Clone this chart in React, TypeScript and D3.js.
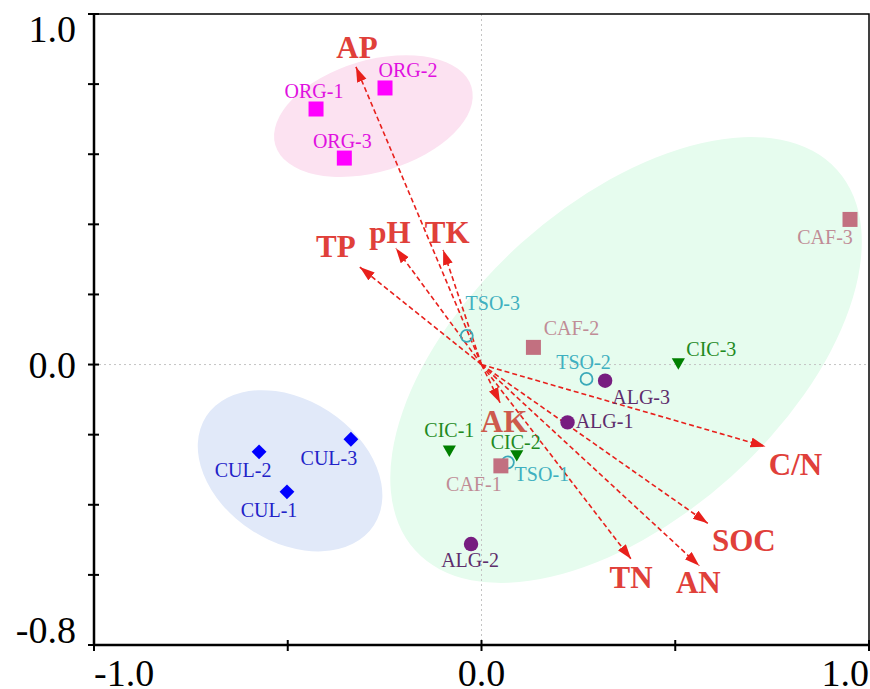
import * as d3 from 'd3'

// sample scores (axis 1, axis 2)
const sampleNames = [
  'ORG-1', 'ORG-2', 'ORG-3',
  'CUL-1', 'CUL-2', 'CUL-3',
  'TSO-1', 'TSO-2', 'TSO-3',
  'CAF-1', 'CAF-2', 'CAF-3',
  'ALG-1', 'ALG-2', 'ALG-3',
  'CIC-1', 'CIC-2', 'CIC-3',
]
const sampleX = [
  -0.427, -0.249, -0.354,
  -0.502, -0.574, -0.337,
  0.068, 0.271, -0.038,
  0.05, 0.134, 0.951,
  0.222, -0.027, 0.319,
  -0.083, 0.091, 0.508,
]
const sampleY = [
  0.729, 0.789, 0.589,
  -0.363, -0.249, -0.213,
  -0.279, -0.041, 0.082,
  -0.289, 0.049, 0.414,
  -0.165, -0.512, -0.046,
  -0.242, -0.255, 0.007,
]

// environmental variable arrows
const varNames = ['AP', 'TP', 'pH', 'TK', 'AK', 'C/N', 'SOC', 'AN', 'TN']
const varX = [-0.324, -0.314, -0.221, -0.099, 0.048, 0.733, 0.584, 0.562, 0.386]
const varY = [0.849, 0.278, 0.332, 0.327, -0.109, -0.234, -0.453, -0.574, -0.555]

// group ellipses: centre, semi axes (x units), tilt in degrees
const ellipseGroups = ['ORG', 'CUL', 'REST']
const ellipseCx = [-0.279, -0.494, 0.373]
const ellipseCy = [0.709, -0.303, 0.013]
const ellipseA = [0.264, 0.258, 0.733]
const ellipseB = [0.144, 0.183, 0.405]
const ellipseAngle = [16.5, -33, 42]

const xTicks = [-1, -0.5, 0, 0.5, 1]
const yTicks = [-0.8, -0.6, -0.4, -0.2, 0, 0.2, 0.4, 0.6, 0.8, 1.0]
const xTickLabels = ['-1.0', '0.0', '1.0']
const yTickLabels = ['-0.8', '0.0', '1.0']

const groupStyle: Record<string, { shape: string; color: string; text: string }> = {
  ORG: { shape: 'square', color: '#ff00ff', text: '#e010e0' },
  CUL: { shape: 'diamond', color: '#0000ff', text: '#2222c8' },
  TSO: { shape: 'ring', color: '#3aa9b9', text: '#3fb0c0' },
  CAF: { shape: 'square', color: '#c27080', text: '#c08c96' },
  ALG: { shape: 'circle', color: '#771d80', text: '#5e2d6c' },
  CIC: { shape: 'triangle', color: '#008000', text: '#1f8a1f' },
}
const ellipseFill: Record<string, string> = {
  ORG: '#fce2f1',
  CUL: '#e1e9f9',
  REST: '#e6fcee',
}

// label placement relative to marker (px)
const labelOffset: Record<string, [number, number]> = {
  'ORG-1': [-2, -11], 'ORG-2': [23, -11], 'ORG-3': [-2, -10],
  'CUL-1': [-18, 25], 'CUL-2': [-16, 25], 'CUL-3': [-22, 26],
  'TSO-1': [34, 19], 'TSO-2': [-3, -10], 'TSO-3': [26, -26],
  'CAF-1': [-27, 25], 'CAF-2': [38, -12], 'CAF-3': [-25, 25],
  'ALG-1': [37, 6], 'ALG-2': [-1, 23], 'ALG-3': [36, 23],
  'CIC-1': [0, -12], 'CIC-2': [-1, -5], 'CIC-3': [33, -6],
}
const varLabelOffset: Record<string, [number, number]> = {
  AP: [1, -9], TP: [-24, -10], pH: [-6, -5], TK: [4, -7], AK: [4, 29],
  'C/N': [30, 28], SOC: [36, 28], AN: [-1, 27], TN: [0, 29],
}

const W = 870
const H = 689
const FONT = '"Liberation Serif", "Times New Roman", serif'
const RED = '#e8201c'

const x = d3.scaleLinear().domain([-1, 1]).range([94, 869])
const y = d3.scaleLinear().domain([-0.8, 1.0]).range([645, 14])
const unit = x(1) - x(0)

const Marker = ({ shape, color, cx, cy }: { shape: string; color: string; cx: number; cy: number }) => {
  if (shape === 'square') {
    const p = d3.symbol().type(d3.symbolSquare).size(225)()
    return <path d={p || ''} transform={`translate(${cx},${cy})`} fill={color} />
  }
  if (shape === 'diamond') {
    const p = d3.symbol().type(d3.symbolSquare).size(110)()
    return <path d={p || ''} transform={`translate(${cx},${cy}) rotate(45)`} fill={color} />
  }
  if (shape === 'triangle') {
    const p = d3.symbol().type(d3.symbolTriangle).size(75)()
    return <path d={p || ''} transform={`translate(${cx},${cy}) rotate(180)`} fill={color} />
  }
  if (shape === 'ring') {
    return <circle cx={cx} cy={cy} r={6} fill="none" stroke={color} strokeWidth={1.8} />
  }
  return <circle cx={cx} cy={cy} r={7.2} fill={color} />
}

export default function App() {
  const x0 = x(0)
  const y0 = y(0)
  return (
    <svg width={W} height={H} style={{ position: 'absolute', left: 0, top: 0, background: '#fff' }}>
      <defs>
        <marker id="head" markerUnits="userSpaceOnUse" markerWidth={16} markerHeight={12}
          refX={15} refY={5} orient="auto">
          <path d="M0,0 L15,5 L0,10 Z" fill={RED} />
        </marker>
      </defs>

      {ellipseGroups.map((g, i) => {
        const cx = x(ellipseCx[i])
        const cy = y(ellipseCy[i])
        return (
          <ellipse key={g} cx={cx} cy={cy} rx={ellipseA[i] * unit} ry={ellipseB[i] * unit}
            transform={`rotate(${-ellipseAngle[i]},${cx},${cy})`} fill={ellipseFill[g]} />
        )
      })}

      {/* zero lines */}
      <line x1={x(-1)} x2={x(1)} y1={y0} y2={y0} stroke="#c4c4c4" strokeWidth={1} strokeDasharray="2 3" />
      <line x1={x0} x2={x0} y1={y(1)} y2={y(-0.8)} stroke="#c4c4c4" strokeWidth={1} strokeDasharray="2 3" />

      {/* arrows */}
      {varNames.map((v, i) => (
        <line key={v} x1={x0} y1={y0} x2={x(varX[i])} y2={y(varY[i])}
          stroke={RED} strokeWidth={1.6} strokeDasharray="5 3" markerEnd="url(#head)" />
      ))}

      {/* samples */}
      {sampleNames.map((s, i) => {
        const st = groupStyle[s.slice(0, 3)]
        const cx = x(sampleX[i])
        const cy = y(sampleY[i])
        const [dx, dy] = labelOffset[s]
        return (
          <g key={s}>
            <Marker shape={st.shape} color={st.color} cx={cx} cy={cy} />
            <text x={cx + dx} y={cy + dy} textAnchor="middle" fontFamily={FONT} fontSize={20}
              fill={st.text}>{s}</text>
          </g>
        )
      })}

      {/* variable labels */}
      {varNames.map((v, i) => {
        const [dx, dy] = varLabelOffset[v]
        return (
          <text key={v} x={x(varX[i]) + dx} y={y(varY[i]) + dy} textAnchor="middle"
            fontFamily={FONT} fontSize={31} fontWeight="bold"
            fill={v === 'AK' ? '#cd5a4c' : '#e0403a'}>{v}</text>
        )
      })}

      {/* frame */}
      <rect x={x(-1)} y={y(1)} width={x(1) - x(-1)} height={y(-0.8) - y(1)} fill="none"
        stroke="#000" strokeWidth={1.5} />
      <line x1={x(-1)} x2={x(-1)} y1={y(1)} y2={y(-0.8)} stroke="#000" strokeWidth={2.5} />
      <line x1={x(-1)} x2={x(1)} y1={y(-0.8)} y2={y(-0.8)} stroke="#000" strokeWidth={2.5} />

      {yTicks.map((t) => (
        <line key={t} x1={x(-1) - 6} x2={x(-1) + 5} y1={y(t)} y2={y(t)} stroke="#000" strokeWidth={2} />
      ))}
      {xTicks.map((t) => (
        <line key={t} x1={x(t)} x2={x(t)} y1={y(-0.8) - 5} y2={y(-0.8) + 6} stroke="#000" strokeWidth={2} />
      ))}

      {yTickLabels.map((l, i) => {
        const v = +l
        const yy = i === 0 ? y(v) - 2 : i === 2 ? y(v) + 28 : y(v) + 13
        return (
          <text key={l} x={76} y={yy} textAnchor="end" fontFamily={FONT} fontSize={38}>{l}</text>
        )
      })}
      {xTickLabels.map((l, i) => (
        <text key={l} x={x(+l)} y={686} textAnchor={i === 0 ? 'start' : i === 2 ? 'end' : 'middle'}
          fontFamily={FONT} fontSize={38}>{l}</text>
      ))}
    </svg>
  )
}
